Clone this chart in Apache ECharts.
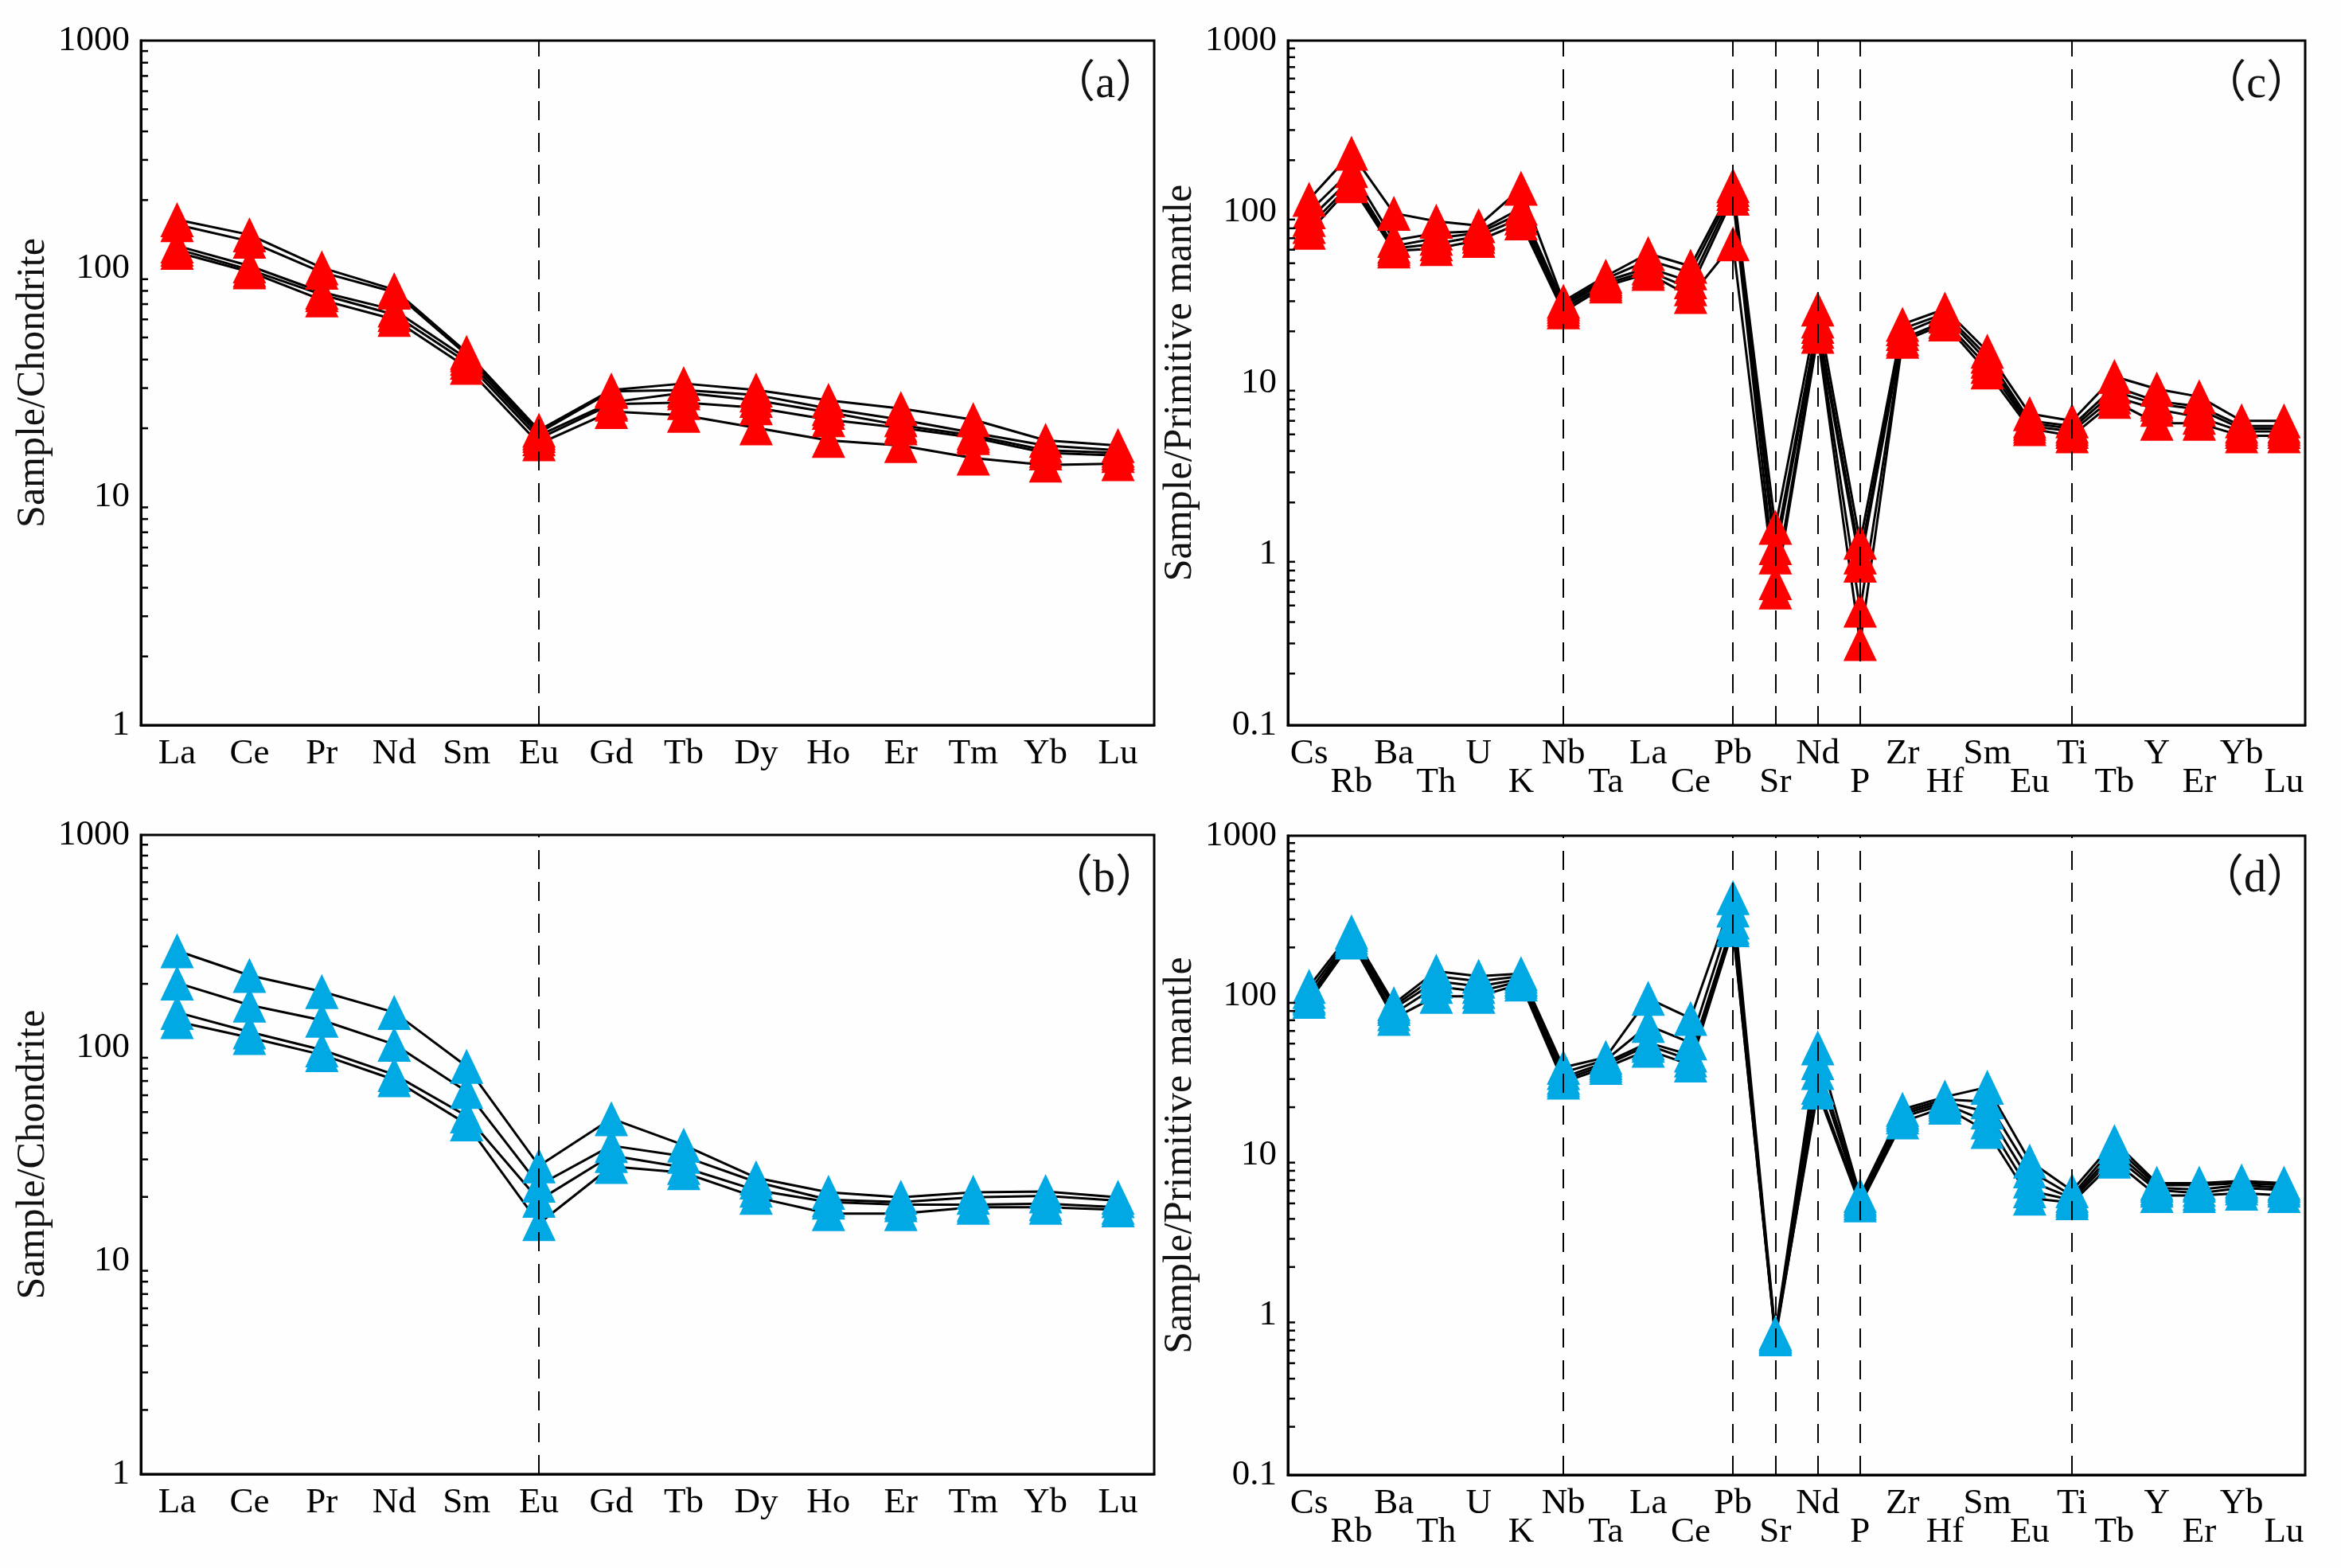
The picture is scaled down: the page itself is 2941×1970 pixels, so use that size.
<!DOCTYPE html>
<html>
<head>
<meta charset="utf-8">
<script src="https://cdn.jsdelivr.net/npm/echarts/dist/echarts.min.js"></script>
<style>
    html, body { margin: 0; padding: 0; background: #fefefe; }
    #chart { width: 2941px; height: 1970px; }
</style>
</head>
<body>
<div id="chart"></div>
<script>
// 稀土元素 (a)(b)
var reeLabels = ['La', 'Ce', 'Pr', 'Nd', 'Sm', 'Eu', 'Gd', 'Tb', 'Dy', 'Ho', 'Er', 'Tm', 'Yb', 'Lu'];
// 微量元素 (c)(d)
var spiderLabels = ['Cs', 'Rb', 'Ba', 'Th', 'U', 'K', 'Nb', 'Ta', 'La', 'Ce', 'Pb', 'Sr', 'Nd', 'P',
    'Zr', 'Hf', 'Sm', 'Eu', 'Ti', 'Tb', 'Y', 'Er', 'Yb', 'Lu'];

// (a) Sample/Chondrite, red
var reeA1 = [164, 141, 101, 81, 43, 19.6, 29.4, 31.4, 29.4, 26.5, 24.4, 21.8, 17.7, 16.8];
var reeA2 = [156, 132, 96.5, 79, 42, 19.1, 29, 29.4, 28, 24.4, 21.8, 19.1, 16.8, 16];
var reeA3 = [126, 103, 79, 66, 40.5, 18.6, 26, 28.6, 26.5, 23.5, 20.6, 18.6, 16, 15.6];
var reeA4 = [122, 99, 77, 63, 39, 18, 25.5, 25.9, 24.6, 21.8, 20.1, 18.2, 15.6, 15.2];
var reeA5 = [118, 97, 73, 60, 37, 17.1, 23.7, 22.8, 20.1, 17.7, 16.8, 14.8, 13.8, 14];

// (b) Sample/Chondrite, blue
var reeB1 = [286, 219, 184, 147, 82, 28, 46.6, 35, 24.6, 21, 19.9, 21, 21.2, 19.9];
var reeB2 = [202, 159, 135, 104, 62.5, 22.7, 34.8, 31, 23.5, 19.4, 18.9, 19.9, 20.2, 19.2];
var reeB3 = [147, 119, 98, 75, 48, 19.3, 31.3, 27.5, 21.5, 18.9, 18.4, 18.4, 18.6, 17.9];
var reeB4 = [133, 112, 93, 71, 44, 15, 27.8, 26, 19.9, 16.7, 16.7, 17.9, 17.9, 17.4];

// (c) Sample/Primitive mantle, red
var spC1 = [118, 220, 98, 88, 83, 137, 30, 42, 57, 48, 142, 1.43, 27, 1.17, 22, 27, 15.3, 6.6, 6.0, 10.9, 9.2, 8.3, 6.0, 6.0];
var spC2 = [100, 174, 68, 75, 77, 105, 29, 40.6, 52, 44, 135, 1.09, 23, 0.96, 20.7, 25.4, 14.3, 6.0, 5.6, 9.5, 7.8, 7.3, 5.6, 5.6];
var spC3 = [90, 157, 63, 70, 75, 98, 28, 39.4, 47, 39, 128, 0.96, 21.4, 0.86, 19.4, 24.6, 13.4, 5.8, 5.4, 8.9, 7.5, 7.0, 5.4, 5.4];
var spC4 = [82, 147, 61, 65, 72, 92, 27, 38, 45, 35.5, 120, 0.68, 20, 0.47, 18.1, 22.9, 12.5, 5.6, 5.2, 8.3, 7.0, 6.3, 5.2, 5.2];
var spC5 = [76, 142, 59, 61, 68, 86, 26, 36.8, 43.6, 32, 65, 0.6, 18.7, 0.30, 17.5, 22.1, 11.6, 5.4, 4.9, 7.8, 5.8, 5.8, 4.9, 4.9];

// (d) Sample/Primitive mantle, blue
var spD1 = [114, 250, 89, 142, 132, 137, 35.5, 41, 96, 72, 410, 0.77, 47, 5.6, 19.4, 23.2, 26.7, 9.2, 6.0, 12.2, 6.7, 6.7, 6.9, 6.7];
var spD2 = [106, 241, 86, 132, 123, 132, 33, 39.5, 65, 50.6, 343, 0.75, 38, 5.4, 18.7, 22.4, 21.6, 8.0, 5.6, 11.4, 6.5, 6.5, 6.7, 6.5];
var spD3 = [99, 232, 83, 123, 114, 127, 30.8, 38.1, 50.6, 42.4, 288, 0.73, 33, 5.25, 18.1, 21.6, 18.7, 6.9, 5.4, 10.6, 6.25, 6.1, 6.5, 6.25];
var spD4 = [96, 224, 77, 114, 106, 123, 29.7, 36.8, 48.8, 39.5, 268, 0.71, 26.7, 5.05, 17.4, 20.9, 16.2, 6.0, 5.25, 9.9, 6.05, 5.8, 6.25, 6.05];
var spD5 = [92, 216, 72, 99, 99, 118, 28.7, 35.5, 45.5, 36.8, 258, 0.74, 24.9, 4.9, 16.2, 20, 14.1, 5.4, 5.05, 9.2, 5.6, 5.6, 5.8, 5.6];

// 虛線位置
var reeDashed = ['Eu'];
var spiderDashed = ['Nb', 'Pb', 'Sr', 'Nd', 'P', 'Ti'];

// 對數軸次刻度
var minorTicksRee = [2, 3, 4, 5, 6, 7, 8, 9, 20, 30, 40, 50, 60, 70, 80, 90, 200, 300, 400, 500, 600, 700, 800, 900];
var minorTicksSpider = [0.2, 0.3, 0.4, 0.5, 0.6, 0.7, 0.8, 0.9, 2, 3, 4, 5, 6, 7, 8, 9,
    20, 30, 40, 50, 60, 70, 80, 90, 200, 300, 400, 500, 600, 700, 800, 900];

var RED = '#ff0000';
var BLUE = '#00a9e4';
var FONT = 'Liberation Serif';

var chart = echarts.init(document.getElementById('chart'));

// 一個面板的 x 軸
function makeXAxis(idx, labels, twoRows) {
    return {
        type: 'category',
        gridIndex: idx,
        data: labels,
        boundaryGap: true,
        axisLine: { lineStyle: { color: '#000', width: 3 } },
        axisTick: { inside: true, length: 9, alignWithLabel: true, lineStyle: { color: '#000', width: 2.5 } },
        axisLabel: {
            interval: 0,
            margin: 18,
            color: '#000',
            fontFamily: FONT,
            fontSize: 45,
            lineHeight: 36,
            formatter: function (v, i) {
                return twoRows && i % 2 ? '\n' + v : v;
            }
        },
        splitLine: { show: false }
    };
}

// 一個面板的 y 軸
function makeYAxis(idx, min, name) {
    return {
        type: 'log',
        logBase: 10,
        gridIndex: idx,
        min: min,
        max: 1000,
        name: name,
        nameLocation: 'middle',
        nameGap: 110,
        nameTextStyle: { color: '#111', fontFamily: FONT, fontSize: 50 },
        axisLine: { show: true, lineStyle: { color: '#000', width: 3 } },
        axisTick: { inside: true, length: 14, lineStyle: { color: '#000', width: 2.5 } },
        axisLabel: {
            margin: 14,
            color: '#000',
            fontFamily: FONT,
            fontSize: 45,
            formatter: function (v) { return String(v); }
        },
        splitLine: { show: false }
    };
}

// 樣品折線
function makeSample(idx, values, color, dashed) {
    var s = {
        type: 'line',
        xAxisIndex: idx,
        yAxisIndex: idx,
        data: values,
        symbol: 'triangle',
        symbolSize: [42, 44],
        showSymbol: true,
        itemStyle: { color: color },
        lineStyle: { color: '#000', width: 3 },
        z: 3
    };
    if (dashed) {
        s.markLine = {
            silent: true,
            symbol: ['none', 'none'],
            label: { show: false },
            lineStyle: { color: '#000', width: 2, type: [24, 16] },
            data: dashed.map(function (name) { return { xAxis: name }; })
        };
    }
    return s;
}

// 次刻度 (custom series)
function makeMinorTicks(idx, ticks) {
    return {
        type: 'custom',
        xAxisIndex: idx,
        yAxisIndex: idx,
        silent: true,
        clip: false,
        z: 5,
        data: ticks.map(function (t) { return [0, t]; }),
        renderItem: function (params, api) {
            var y = api.coord([0, api.value(1)])[1];
            var x = params.coordSys.x;
            return {
                type: 'line',
                shape: { x1: x, y1: y, x2: x + 9, y2: y },
                style: { stroke: '#000', lineWidth: 2.5 }
            };
        }
    };
}

function panelLabel(text, x, y) {
    return {
        type: 'text',
        x: x,
        y: y,
        style: {
            text: text,
            font: '56px "Liberation Serif", "Noto Sans CJK SC"',
            fill: '#111',
            align: 'right',
            verticalAlign: 'middle'
        }
    };
}

var gridStyle = { show: true, borderColor: '#000', borderWidth: 3, backgroundColor: 'transparent' };

var option = {
    animation: false,
    backgroundColor: '#fefefe',
    grid: [
        Object.assign({ left: 177, top: 51, width: 1273, height: 860 }, gridStyle),
        Object.assign({ left: 177, top: 1049, width: 1273, height: 803 }, gridStyle),
        Object.assign({ left: 1618, top: 51, width: 1278, height: 860 }, gridStyle),
        Object.assign({ left: 1618, top: 1050, width: 1278, height: 803 }, gridStyle)
    ],
    xAxis: [
        makeXAxis(0, reeLabels, false),
        makeXAxis(1, reeLabels, false),
        makeXAxis(2, spiderLabels, true),
        makeXAxis(3, spiderLabels, true)
    ],
    yAxis: [
        makeYAxis(0, 1, 'Sample/Chondrite'),
        makeYAxis(1, 1, 'Sample/Chondrite'),
        makeYAxis(2, 0.1, 'Sample/Primitive mantle'),
        makeYAxis(3, 0.1, 'Sample/Primitive mantle')
    ],
    graphic: [
        panelLabel('（a）', 1457, 107),
        panelLabel('（b）', 1457, 1105),
        panelLabel('（c）', 2903, 107),
        panelLabel('（d）', 2903, 1105)
    ],
    series: [
        makeSample(0, reeA1, RED, reeDashed),
        makeSample(0, reeA2, RED),
        makeSample(0, reeA3, RED),
        makeSample(0, reeA4, RED),
        makeSample(0, reeA5, RED),
        makeSample(1, reeB1, BLUE, reeDashed),
        makeSample(1, reeB2, BLUE),
        makeSample(1, reeB3, BLUE),
        makeSample(1, reeB4, BLUE),
        makeSample(2, spC1, RED, spiderDashed),
        makeSample(2, spC2, RED),
        makeSample(2, spC3, RED),
        makeSample(2, spC4, RED),
        makeSample(2, spC5, RED),
        makeSample(3, spD1, BLUE, spiderDashed),
        makeSample(3, spD2, BLUE),
        makeSample(3, spD3, BLUE),
        makeSample(3, spD4, BLUE),
        makeSample(3, spD5, BLUE),
        makeMinorTicks(0, minorTicksRee),
        makeMinorTicks(1, minorTicksRee),
        makeMinorTicks(2, minorTicksSpider),
        makeMinorTicks(3, minorTicksSpider)
    ]
};

chart.setOption(option);
</script>
</body>
</html>
